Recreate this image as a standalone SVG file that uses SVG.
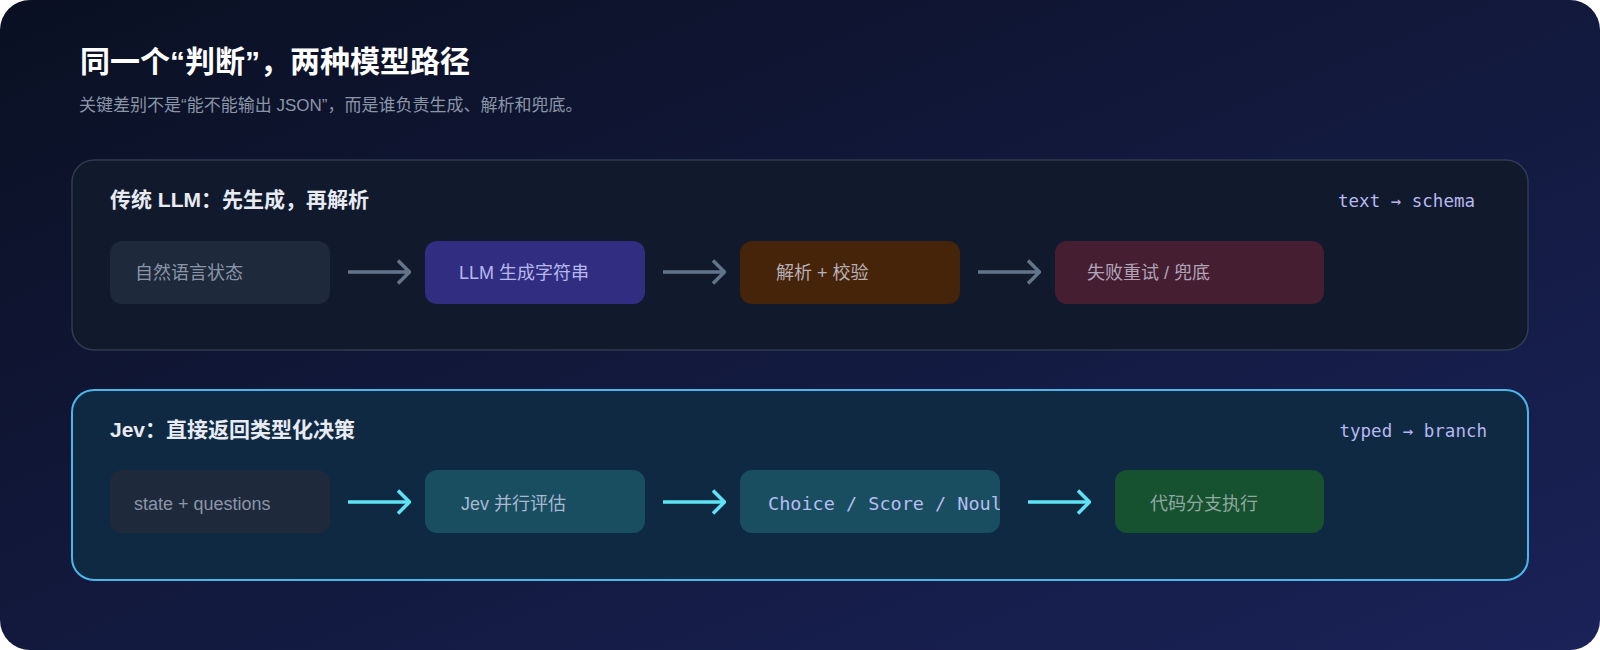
<svg xmlns="http://www.w3.org/2000/svg" width="1600" height="650" viewBox="0 0 1600 650">
<defs>
<linearGradient id="bg" x1="0" y1="0" x2="1" y2="1">
<stop offset="0" stop-color="#0a1022"/><stop offset="1" stop-color="#1a2258"/>
</linearGradient>
<marker id="ag" viewBox="0 0 14 26" refX="13" refY="13" markerWidth="14" markerHeight="26" markerUnits="userSpaceOnUse" orient="auto"><path d="M1,1.5 L12.5,13 L1,24.5" fill="none" stroke="#64748b" stroke-width="3.5"/></marker>
<marker id="ac" viewBox="0 0 14 26" refX="13" refY="13" markerWidth="14" markerHeight="26" markerUnits="userSpaceOnUse" orient="auto"><path d="M1,1.5 L12.5,13 L1,24.5" fill="none" stroke="#5ee3f5" stroke-width="3.5"/></marker>
<clipPath id="clip3"><rect x="740" y="470" width="260" height="63" rx="12"/></clipPath>
<style>
.sans{font-family:"Liberation Sans","Noto Sans CJK SC",sans-serif}
.mono{font-family:"DejaVu Sans Mono","Liberation Mono",monospace}
.nt{font-size:18px}
.ptitle{font-size:21px;font-weight:bold;fill:#e8ebf2}
.tag{font-size:17.5px;fill:#b8b8f0}
</style>
</defs>
<rect width="1600" height="650" fill="#ffffff"/>
<rect width="1600" height="650" rx="30" fill="url(#bg)"/>
<text x="80" y="72" class="sans" font-size="30" font-weight="bold" fill="#ffffff">同一个“判断”，两种模型路径</text>
<text x="79" y="111" class="sans" font-size="17" fill="#8b95a8">关键差别不是“能不能输出 JSON”，而是谁负责生成、解析和兜底。</text>

<g id="panel-llm">
<rect x="72" y="160" width="1456" height="190" rx="22" fill="#111a2d" stroke="#2f3b52" stroke-width="1.5"/>
<text x="110" y="207" class="sans ptitle">传统 LLM：先生成，再解析</text>
<text x="1475" y="207" text-anchor="end" class="mono tag">text → schema</text>
</g>
<g id="n1"><rect x="110" y="241" width="220" height="63" rx="12" fill="#1e293b"/><text x="135" y="279" class="sans nt" fill="#8a96a8">自然语言状态</text></g>
<g id="n2"><rect x="425" y="241" width="220" height="63" rx="12" fill="#312e81"/><text x="459" y="279" class="sans nt" fill="#b6b8ee">LLM 生成字符串</text></g>
<g id="n3"><rect x="740" y="241" width="220" height="63" rx="12" fill="#45240a"/><text x="776" y="279" class="sans nt" fill="#b8b0b8">解析 + 校验</text></g>
<g id="n4"><rect x="1055" y="241" width="269" height="63" rx="12" fill="#451f31"/><text x="1087" y="279" class="sans nt" fill="#b0a4b8">失败重试 / 兜底</text></g>

<g id="panel-jev">
<rect x="72" y="390" width="1456" height="190" rx="22" fill="#0f2943" stroke="#4cb6ea" stroke-width="2"/>
<text x="110" y="437" class="sans ptitle">Jev：直接返回类型化决策</text>
<text x="1487" y="437" text-anchor="end" class="mono tag">typed → branch</text>
</g>
<g id="m1"><rect x="110" y="470" width="220" height="63" rx="12" fill="#1e293b"/><text x="134" y="510" class="sans nt" fill="#8a96a8">state + questions</text></g>
<g id="m2"><rect x="425" y="470" width="220" height="63" rx="12" fill="#184e60"/><text x="461" y="510" class="sans nt" fill="#a8b8d0">Jev 并行评估</text></g>
<g id="m3"><rect x="740" y="470" width="260" height="63" rx="12" fill="#184e60"/><text x="768" y="510" clip-path="url(#clip3)" class="mono" font-size="18.5" fill="#b8bcf0">Choice / Score / Noul</text></g>
<g id="m4"><rect x="1115" y="470" width="209" height="63" rx="12" fill="#165230"/><text x="1150" y="510" class="sans nt" fill="#90a8a0">代码分支执行</text></g>

<g id="connectors" fill="none" stroke-width="3.5">
<line x1="348" y1="272" x2="410" y2="272" stroke="#64748b" marker-end="url(#ag)"/>
<line x1="663" y1="272" x2="725" y2="272" stroke="#64748b" marker-end="url(#ag)"/>
<line x1="978" y1="272" x2="1040" y2="272" stroke="#64748b" marker-end="url(#ag)"/>
<line x1="348" y1="502" x2="410" y2="502" stroke="#5ee3f5" marker-end="url(#ac)"/>
<line x1="663" y1="502" x2="725" y2="502" stroke="#5ee3f5" marker-end="url(#ac)"/>
<line x1="1028" y1="502" x2="1090" y2="502" stroke="#5ee3f5" marker-end="url(#ac)"/>
</g>
</svg>
